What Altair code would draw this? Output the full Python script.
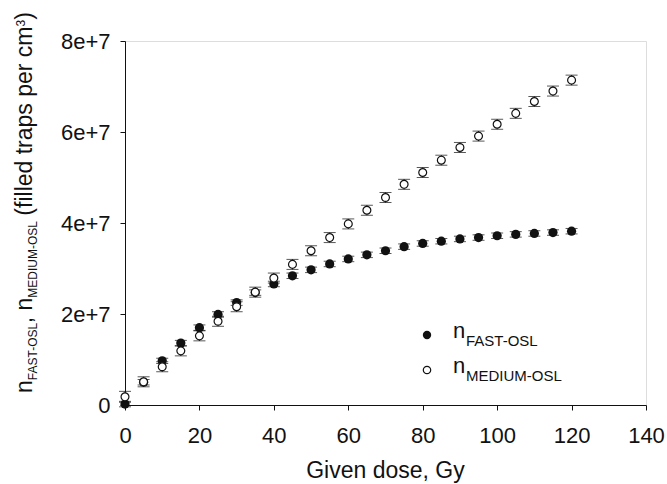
import altair as alt
import pandas as pd

# ---------------- data ----------------
dose = [0, 5, 10, 15, 20, 25, 30, 35, 40, 45, 50, 55, 60, 65, 70, 75, 80, 85,
        90, 95, 100, 105, 110, 115, 120]
fast = [0.2e6, 5.0e6, 9.7e6, 13.6e6, 17.0e6, 19.9e6, 22.5e6, 24.7e6, 26.6e6,
        28.4e6, 29.7e6, 31.0e6, 32.1e6, 33.0e6, 33.9e6, 34.8e6, 35.5e6, 36.0e6,
        36.5e6, 36.8e6, 37.2e6, 37.5e6, 37.7e6, 37.9e6, 38.2e6]
fast_err = [0.6e6] * 25
medium = [1.8e6, 5.1e6, 8.4e6, 11.9e6, 15.2e6, 18.4e6, 21.6e6, 24.8e6, 27.9e6,
          30.9e6, 33.9e6, 36.8e6, 39.8e6, 42.8e6, 45.6e6, 48.5e6, 51.1e6, 53.8e6,
          56.6e6, 59.1e6, 61.7e6, 64.1e6, 66.7e6, 69.0e6, 71.4e6]
medium_err = [1.2e6, 1.1e6, 1.1e6, 1.1e6, 1.1e6, 1.1e6, 1.1e6, 1.1e6, 1.1e6,
              1.1e6, 1.1e6, 1.1e6, 1.1e6, 1.1e6, 1.1e6, 1.1e6, 1.1e6, 1.1e6,
              1.1e6, 1.1e6, 1.1e6, 1.1e6, 1.1e6, 1.1e6, 1.1e6]
x_ticks = [0, 20, 40, 60, 80, 100, 120, 140]
y_ticks = [0, 20000000, 40000000, 60000000, 80000000]
y_tick_labels = ["0", "2e+7", "4e+7", "6e+7", "8e+7"]

FONT = "Liberation Sans"
INK = "#111111"
W, H = 521, 364

df = pd.DataFrame({
    "dose": dose,
    "fast": fast,
    "fast_lo": [v - e for v, e in zip(fast, fast_err)],
    "fast_hi": [v + e for v, e in zip(fast, fast_err)],
    "medium": medium,
    "med_lo": [v - e for v, e in zip(medium, medium_err)],
    "med_hi": [v + e for v, e in zip(medium, medium_err)],
})

label_expr = " : ".join(
    f"datum.value == {v} ? '{t}'" for v, t in zip(y_ticks, y_tick_labels)
) + " : ''"

xs = alt.Scale(domain=[0, 140], nice=False, zero=False)
ys = alt.Scale(domain=[0, 80000000], nice=False)

x_axis = alt.Axis(values=x_ticks, title=None, grid=False, tickSize=5,
                  labelPadding=15, labelFontSize=22, labelFont=FONT,
                  labelColor=INK, domainColor=INK, tickColor=INK,
                  labelFlush=False, labelOverlap=False)
y_axis = alt.Axis(values=y_ticks, title=None, grid=False, tickSize=5,
                  labelPadding=10, labelFontSize=22, labelFont=FONT,
                  labelColor=INK, domainColor=INK, tickColor=INK,
                  labelExpr=label_expr, labelFlush=False, labelOverlap=False)

base = alt.Chart(df)
X = alt.X("dose:Q", scale=xs, axis=x_axis)

def yq(field):
    return alt.Y(f"{field}:Q", scale=ys, axis=y_axis)

def cap(field):
    return base.mark_tick(orient="horizontal", size=12, thickness=1, color=INK).encode(x=X, y=yq(field))

fast_bar = base.mark_rule(color=INK, strokeWidth=1).encode(x=X, y=yq("fast_lo"), y2="fast_hi:Q")
fast_pts = base.mark_point(shape="circle", filled=True, color=INK, size=85, opacity=1).encode(x=X, y=yq("fast"))

med_bar = base.mark_rule(color=INK, strokeWidth=1).encode(x=X, y=yq("med_lo"), y2="med_hi:Q")
med_pts = base.mark_point(shape="circle", filled=True, fill="white", stroke=INK,
                          strokeWidth=1.2, size=62, opacity=1).encode(x=X, y=yq("medium"))

one = pd.DataFrame({"k": [0]})

def txt(s, x, y, fs, angle=0, align="left"):
    return alt.Chart(one).mark_text(
        text=s, font=FONT, fontSize=fs, color=INK, angle=angle,
        align=align, baseline="alphabetic"
    ).encode(x=alt.value(x), y=alt.value(y))

def sym(x, y, filled):
    if filled:
        m = alt.Chart(one).mark_point(shape="circle", filled=True, color=INK, size=70, opacity=1)
    else:
        m = alt.Chart(one).mark_point(shape="circle", filled=True, fill="white", stroke=INK,
                                      strokeWidth=1.2, size=55, opacity=1)
    return m.encode(x=alt.value(x), y=alt.value(y))

# ---- y-axis title (rotated, with sub/superscripts) ----
L, T = 125, 41            # plot origin in page pixels
MAIN, SUB = 23, 12
SPACE = 0.278
bx_main, bx_sub, bx_sup = 32 - L, 37 - L, 25 - L
# (text, font size, baseline x, width in em, leading gap in em)
pieces = [("n", MAIN, bx_main, 0.556, 0),
          ("FAST-OSL", SUB, bx_sub, 4.75, 0),
          (",", MAIN, bx_main, 0.278, 0),
          ("n", MAIN, bx_main, 0.556, SPACE),
          ("MEDIUM-OSL", SUB, bx_sub, 6.30, 0),
          ("(filled traps per cm", MAIN, bx_main, 8.224, SPACE),
          ("3", 12, bx_sup, 0.556, 0),
          (")", MAIN, bx_main, 0.333, 0)]
ytitle = []
ypos = 393 - T
for s, fs, bx, em, gap in pieces:
    ypos -= gap * MAIN
    ytitle.append(txt(s, bx, ypos, fs, angle=270))
    ypos -= em * fs

# ---- x-axis title ----
xtitle = txt("Given dose, Gy", W / 2, 478 - T, 23, align="center")

# ---- legend ----
legend = [
    sym(427 - L, 335 - T, True),
    sym(427 - L, 370 - T, False),
    txt("n", 453 - L, 338 - T, 22),
    txt("FAST-OSL", 466 - L, 346 - T, 15),
    txt("n", 453 - L, 373 - T, 22),
    txt("MEDIUM-OSL", 466 - L, 381 - T, 15),
]

chart = alt.layer(
    fast_bar, cap("fast_lo"), cap("fast_hi"), fast_pts,
    med_bar, cap("med_lo"), cap("med_hi"), med_pts,
    *ytitle, xtitle, *legend
).properties(
    width=W, height=H,
    autosize=alt.AutoSizeParams(type="none"),
    padding={"left": L, "top": T, "right": 667 - L - W, "bottom": 484 - T - H},
).configure_view(
    stroke=INK, strokeWidth=1
).configure(background="white")

chart.save("out.html", embed_options={"renderer": "svg", "actions": False})
